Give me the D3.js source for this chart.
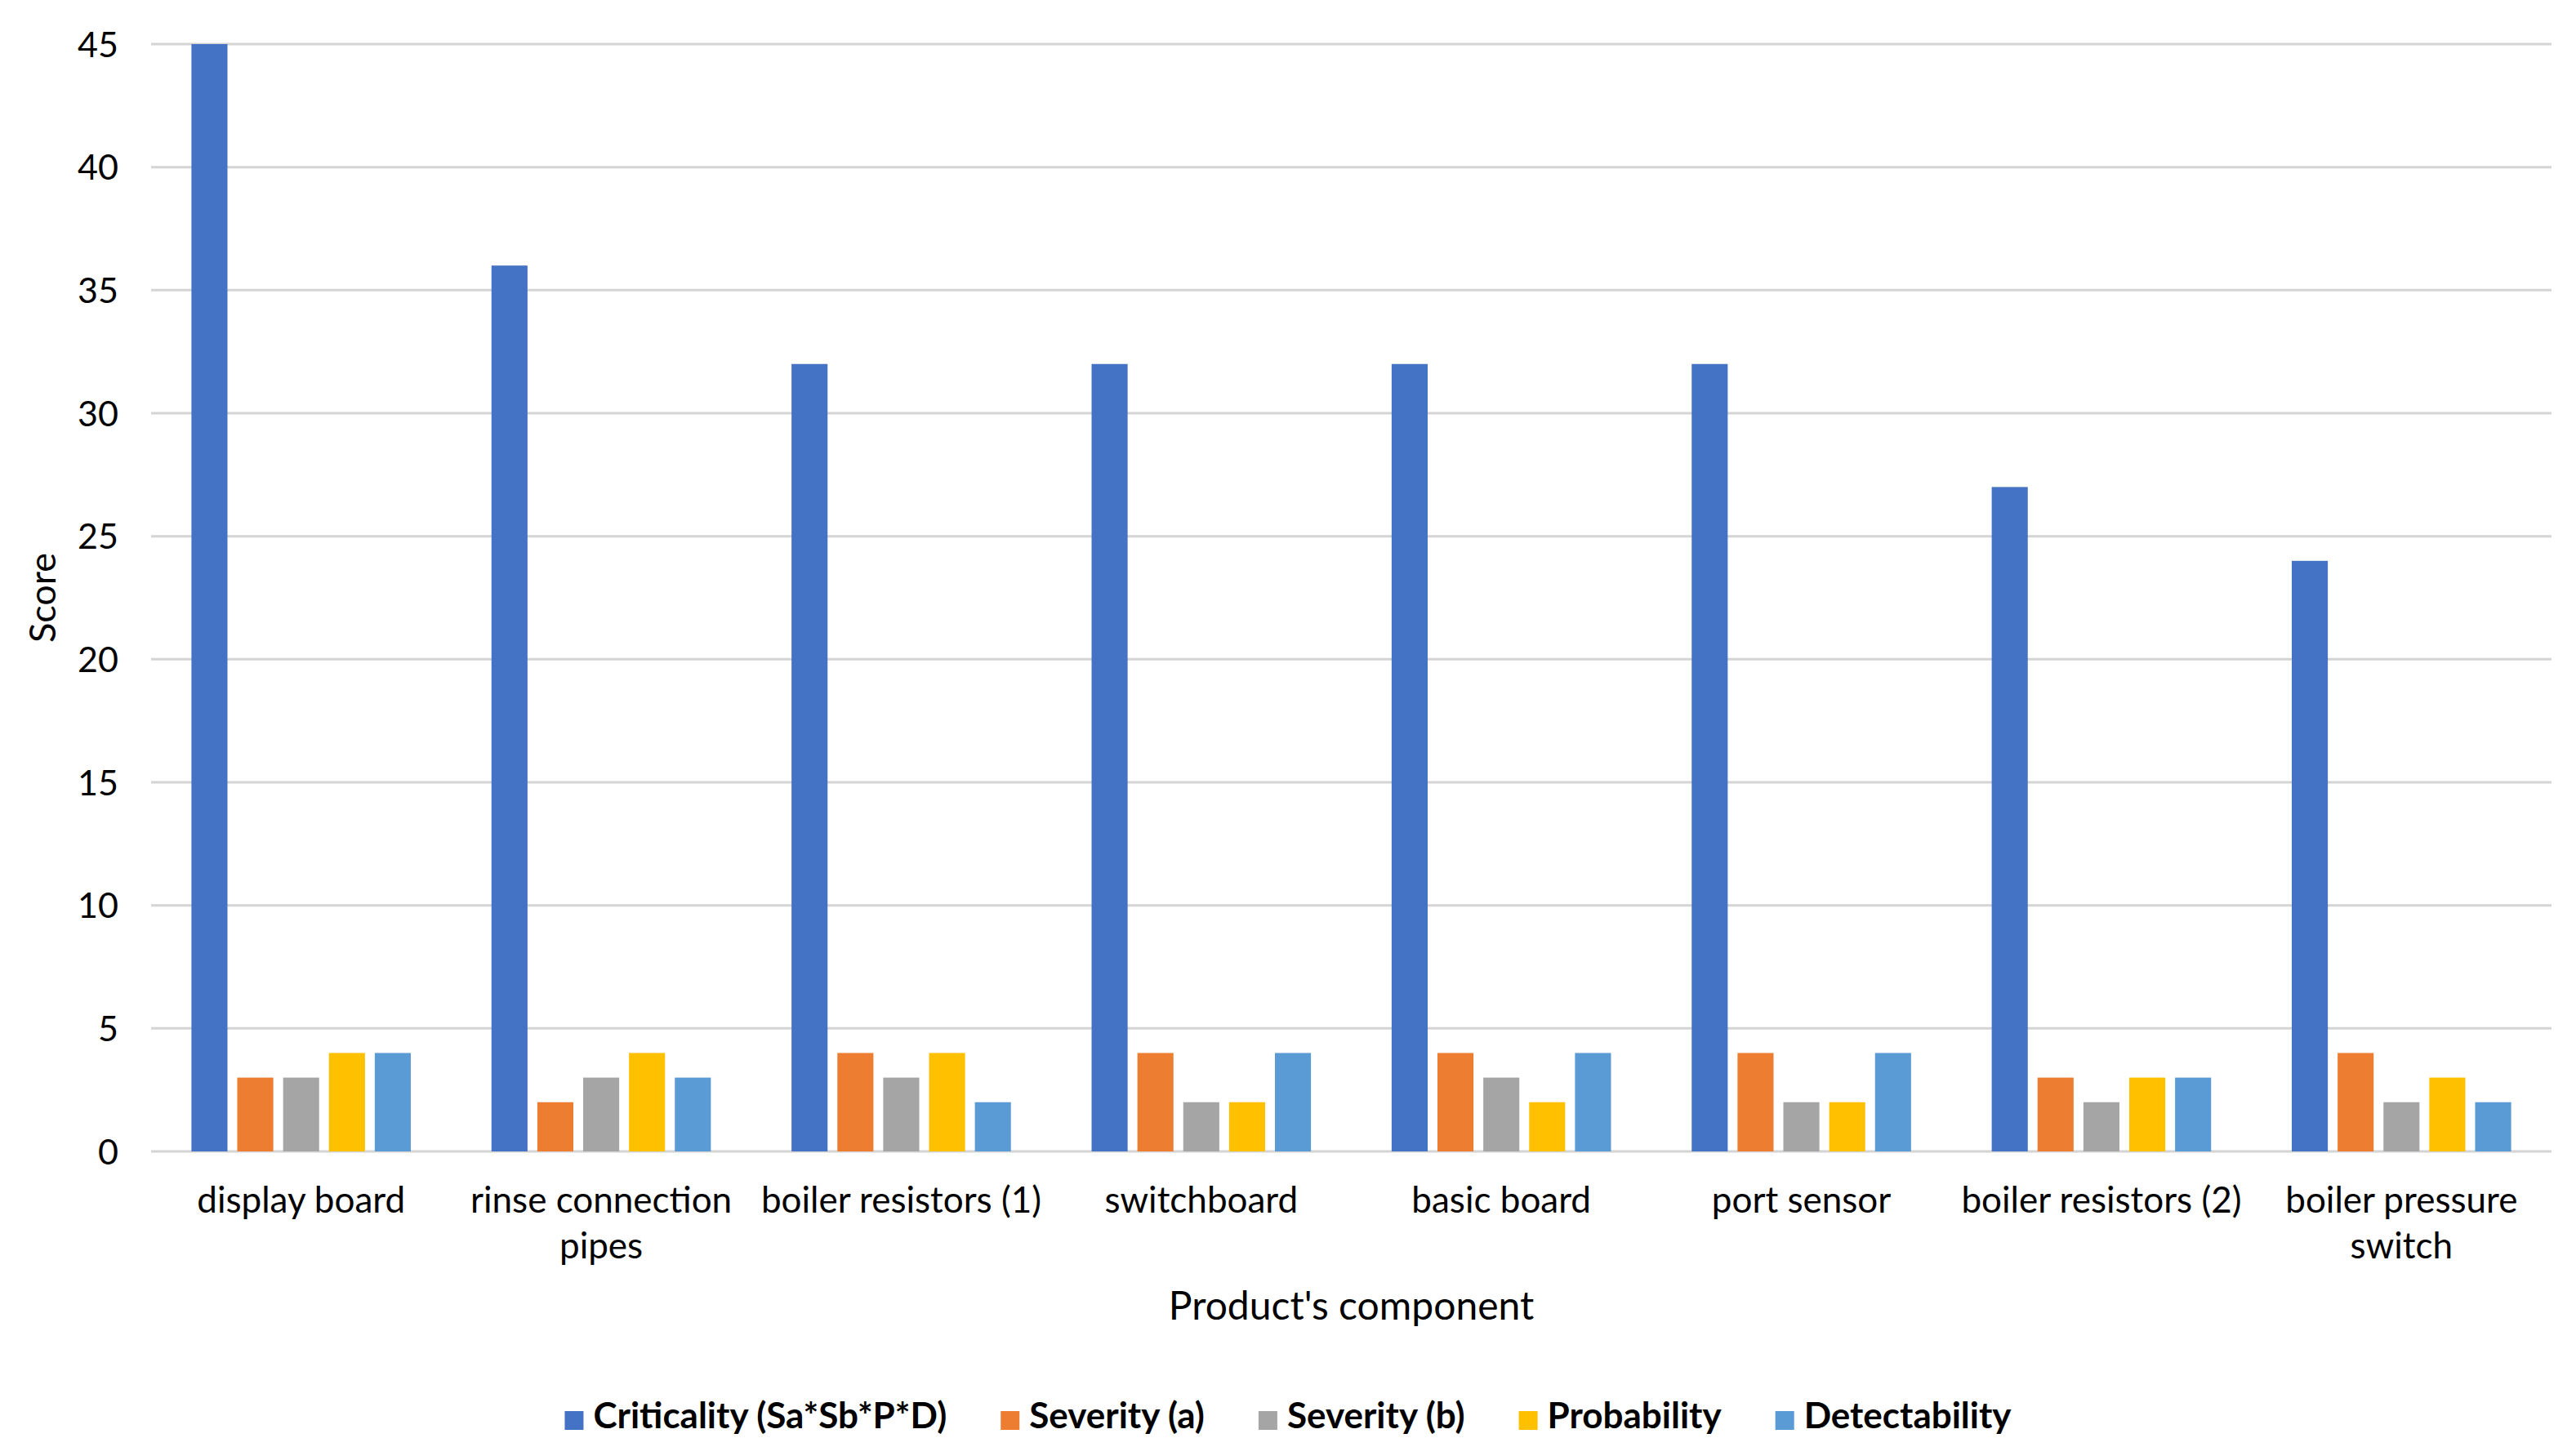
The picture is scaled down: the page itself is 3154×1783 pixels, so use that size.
<!DOCTYPE html>
<html><head><meta charset="utf-8">
<script src="https://cdn.jsdelivr.net/npm/d3@7"></script>
<style>body{margin:0;background:#fff}svg{display:block}text{font-family:Lato,"Open Sans",sans-serif;fill:#000}</style>
</head><body><svg id="c" width="3154" height="1783"></svg>
<script>
const categories = [["display board"],["rinse connection","pipes"],["boiler resistors (1)"],["switchboard"],["basic board"],["port sensor"],["boiler resistors (2)"],["boiler pressure","switch"]];
const seriesNames = ["Criticality (Sa*Sb*P*D)","Severity (a)","Severity (b)","Probability","Detectability"];
const criticality = [45,36,32,32,32,32,27,24];
const severityA   = [3,2,4,4,4,4,3,4];
const severityB   = [3,3,3,2,3,2,2,2];
const probability = [4,4,4,2,2,2,3,3];
const detectability=[4,3,2,4,4,4,3,2];
const yTicks = [0,5,10,15,20,25,30,35,40,45];
const colors = ["#4472C4","#ED7D31","#A5A5A5","#FFC000","#5B9BD5"];
const seriesValues = [criticality,severityA,severityB,probability,detectability];

const svg = d3.select("#c");
const L=185,R=3124,T=54,B=1410;
const catKeys = categories.map(c=>c.join(" "));
const x0 = d3.scaleBand().domain(catKeys).range([L,R]).padding(0);
const x1 = d3.scaleBand().domain(seriesNames).range([0,x0.bandwidth()]).paddingInner(0.214).paddingOuter(0.88);
const y = d3.scaleLinear().domain([0,45]).range([B,T]);

// gridlines
svg.append("g").selectAll("line").data(yTicks).join("line")
  .attr("x1",L).attr("x2",R).attr("y1",d=>y(d)).attr("y2",d=>y(d))
  .attr("stroke","#D4D4D4").attr("stroke-width",3);

// y axis labels
const yAxis = d3.axisLeft(y).tickValues(yTicks).tickSize(0).tickPadding(0);
const gy = svg.append("g").attr("transform",`translate(${L-40},0)`).call(yAxis);
gy.select(".domain").remove();
gy.selectAll("text").style("font-family","Lato").style("font-size","43px").attr("fill","#000").attr("dy","0.35em");

// bars
const groups = svg.append("g").selectAll("g").data(catKeys).join("g")
  .attr("transform",d=>`translate(${x0(d)},0)`);
groups.selectAll("rect").data((d,i)=>seriesNames.map((s,j)=>({s,j,v:seriesValues[j][i]}))).join("rect")
  .attr("x",d=>x1(d.s)).attr("width",x1.bandwidth())
  .attr("y",d=>y(d.v)).attr("height",d=>B-y(d.v))
  .attr("fill",d=>colors[d.j]);

// x labels
const xl = svg.append("g");
categories.forEach((lines,i)=>{
  const cx = x0(catKeys[i])+x0.bandwidth()/2;
  const t = xl.append("text").attr("x",cx).attr("y",1485)
    .attr("text-anchor","middle").style("font-size","44px");
  lines.forEach((ln,k)=>t.append("tspan").attr("x",cx).attr("dy",k?56:0).text(ln));
});

// axis titles
svg.append("text").attr("x",(L+R)/2).attr("y",1616).attr("text-anchor","middle").style("font-size","48px").text("Product's component");
svg.append("text").attr("transform",`translate(68,${(T+B)/2}) rotate(-90)`).attr("text-anchor","middle").style("font-size","45px").text("Score");

// legend
const lg = svg.append("g");
const items = lg.selectAll("g").data(seriesNames).join("g");
items.append("rect").attr("width",23).attr("height",23).attr("y",-21).attr("fill",(d,i)=>colors[i]);
items.append("text").attr("x",35).attr("y",0).style("font-size","44px").style("font-weight","bold").text(d=>d);
let xpos=0; const widths=[];
items.each(function(){const w=35+d3.select(this).select("text").node().getComputedTextLength();widths.push(w);});
items.attr("transform",(d,i)=>{const p=xpos; xpos+=widths[i]+66; return `translate(${p},0)`;});
const total = xpos-66;
lg.attr("transform",`translate(${3154/2-total/2},1749)`);
</script></body></html>
